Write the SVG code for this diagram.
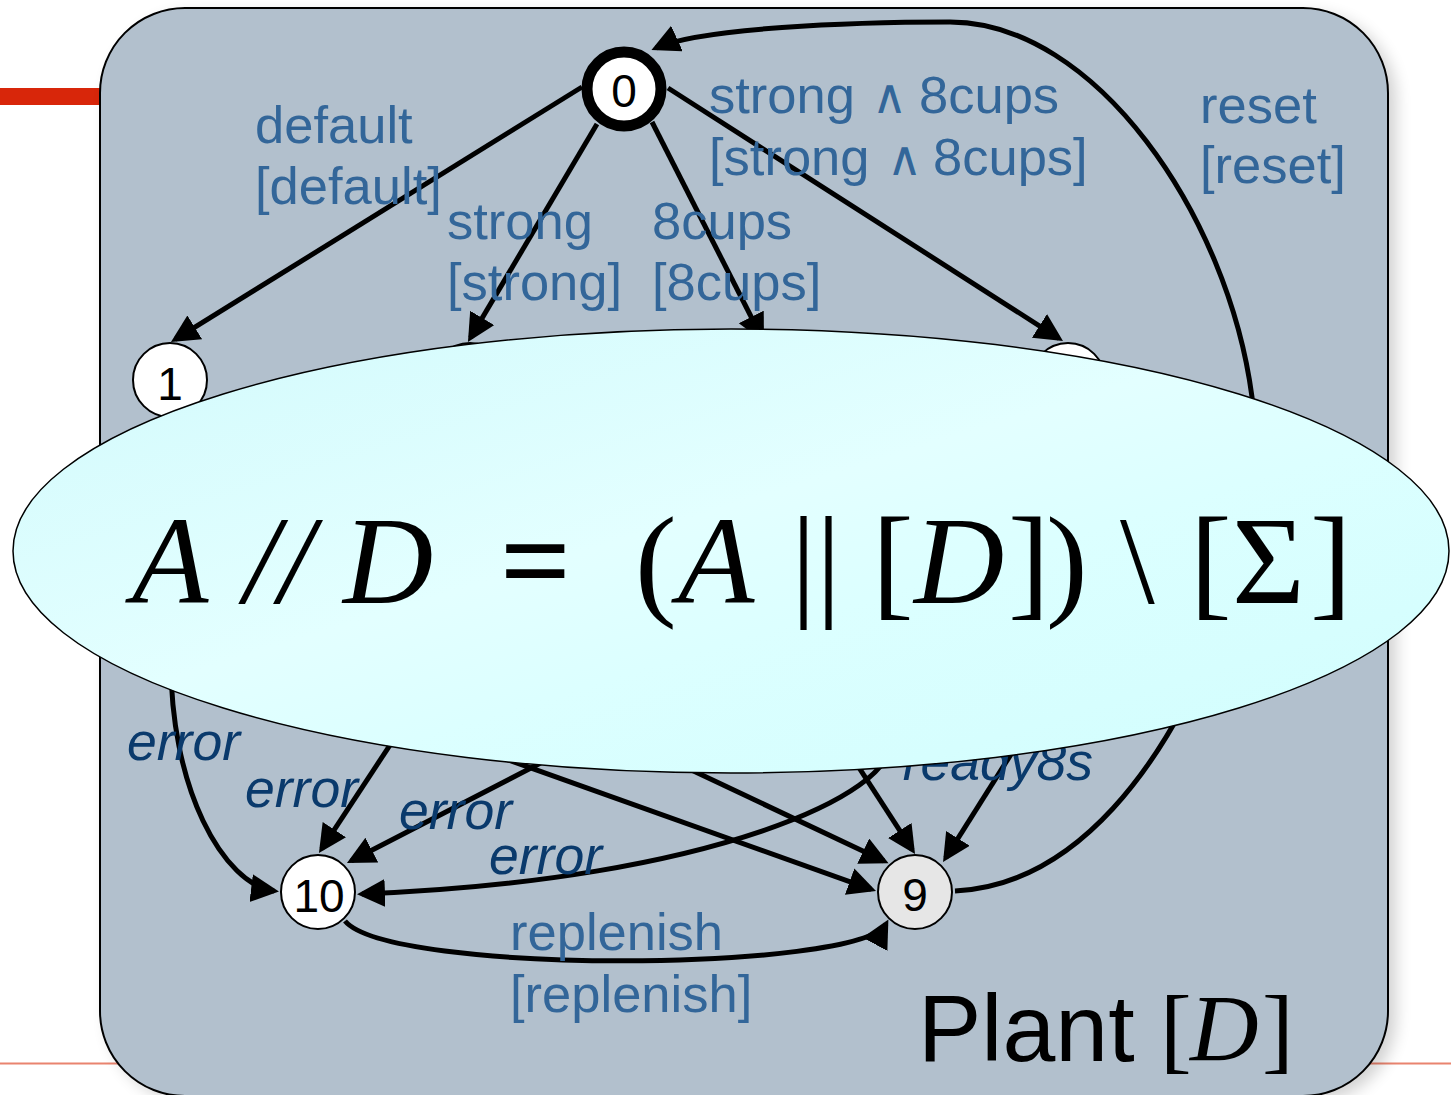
<svg xmlns="http://www.w3.org/2000/svg" width="1451" height="1095" viewBox="0 0 1451 1095">
<defs>
<style>
.lbl{font-family:"Liberation Sans",Arial,sans-serif;font-size:52.5px;fill:#336699}
.err{font-family:"Liberation Sans",Arial,sans-serif;font-size:53.5px;font-style:italic;fill:#0a3a6c}
.num{font-family:"Liberation Sans",Arial,sans-serif;font-size:46px;fill:#000;text-anchor:middle}
.node{fill:#fff;stroke:#000;stroke-width:2}
.edge{fill:none;stroke:#000;stroke-width:5}
.fx{font-family:"Liberation Serif","Times New Roman",serif;font-size:125px;fill:#000}
.it{font-style:italic}
.wedge{font-family:"DejaVu Sans",sans-serif;font-size:48px}
</style>
<marker id="ah" markerUnits="userSpaceOnUse" markerWidth="30" markerHeight="30" refX="23" refY="14" orient="auto">
<path d="M0,0 L28,14 L0,28 Z" fill="#000"/>
</marker>
<linearGradient id="eg" x1="0" y1="0" x2="1" y2="1">
<stop offset="0" stop-color="#d2fafc"/>
<stop offset="0.45" stop-color="#e3ffff"/>
<stop offset="0.6" stop-color="#dcffff"/>
<stop offset="1" stop-color="#d0fdfd"/>
</linearGradient>
<filter id="sh" x="-10%" y="-10%" width="120%" height="120%">
<feGaussianBlur stdDeviation="8"/>
</filter>
</defs>
<rect width="1451" height="1095" fill="#fff"/>
<line x1="0" y1="1063.5" x2="1451" y2="1063.5" stroke="#e9846f" stroke-width="2"/>
<rect x="0" y="88" width="102" height="17" fill="#d8260a"/>
<g id="panel">
<rect x="108" y="14" width="1288" height="1088" rx="85" fill="#000" opacity="0.18" filter="url(#sh)"/>
<rect x="100" y="8" width="1288" height="1088" rx="85" fill="#b2c0cd" stroke="#000" stroke-width="2"/>
</g>
<g id="connectors">
<path class="edge" marker-end="url(#ah)" d="M582 87 L175.2 339.4"/>
<path class="edge" marker-end="url(#ah)" d="M597 124 L470.5 337.7"/>
<path class="edge" marker-end="url(#ah)" d="M652 122 L761.7 337.5"/>
<path class="edge" marker-end="url(#ah)" d="M668 88 L1058.8 338.3"/>
<path class="edge" marker-end="url(#ah)" d="M955 891 C1080 885 1165 760 1215 640 C1262 540 1258 460 1252 397 C1228 215 1095 22 950 22 C850 22 700 28 656 48"/>
<path class="edge" marker-end="url(#ah)" d="M170 419 L171 650 C168 790 225 885 274 891"/>
<path class="edge" marker-end="url(#ah)" d="M421 698 L321.7 848.8"/>
<path class="edge" marker-end="url(#ah)" d="M655.5 703.7 L351.4 860.7"/>
<path class="edge" marker-end="url(#ah)" d="M389.7 717.6 L871.3 889.3"/>
<path class="edge" marker-end="url(#ah)" d="M630 741 L884 861"/>
<path class="edge" marker-end="url(#ah)" d="M834.6 730 L912.3 849.8"/>
<path class="edge" marker-end="url(#ah)" d="M1032 721 L945.7 857.8"/>
<path class="edge" marker-end="url(#ah)" d="M888 745 C895 790 720 880 362 894"/>
<path class="edge" marker-end="url(#ah)" d="M345 921 C390 975 860 972 886 924"/>
</g>
<g id="n0"><circle cx="624" cy="89" r="37" fill="#fff" stroke="#000" stroke-width="11"/><text class="num" x="624" y="107">0</text></g>
<g id="n1"><circle class="node" cx="170" cy="380" r="37"/><text class="num" x="170" y="400">1</text></g>
<g id="n2"><circle class="node" cx="470" cy="380" r="37"/></g>
<g id="n4"><circle class="node" cx="1068" cy="380" r="37"/></g>
<g id="n10"><circle class="node" cx="318" cy="892" r="37"/><text class="num" x="319" y="912">10</text></g>
<g id="n9"><circle class="node" cx="915" cy="892" r="37" style="fill:#e6e6e6"/><text class="num" x="915" y="911">9</text></g>
<g id="labels">
<text class="lbl" x="255" y="143">default</text>
<text class="lbl" x="255" y="204">[default]</text>
<text class="lbl" x="447" y="239">strong</text>
<text class="lbl" x="447" y="300">[strong]</text>
<text class="lbl" x="652" y="239">8cups</text>
<text class="lbl" x="652" y="300">[8cups]</text>
<text class="lbl" y="113"><tspan x="709">strong</tspan><tspan class="wedge" x="872">∧</tspan><tspan x="919">8cups</tspan></text>
<text class="lbl" y="175"><tspan x="709">[strong</tspan><tspan class="wedge" x="887">∧</tspan><tspan x="933">8cups]</tspan></text>
<text class="lbl" x="1200" y="123">reset</text>
<text class="lbl" x="1200" y="183">[reset]</text>
<text class="lbl" x="510" y="950">replenish</text>
<text class="lbl" x="510" y="1012">[replenish]</text>
<text class="err" x="127" y="760">error</text>
<text class="err" x="245" y="807">error</text>
<text class="err" x="399" y="829">error</text>
<text class="err" x="489" y="874">error</text>
<text class="err" x="1093" y="780" text-anchor="end">ready8s</text>
</g>
<g id="formula">
<ellipse cx="731" cy="551" rx="718" ry="222" fill="url(#eg)" stroke="#000" stroke-width="1.5"/>
<text class="fx" y="603"><tspan class="it" x="132">A</tspan><tspan class="it" x="244">//</tspan><tspan class="it" x="343">D</tspan><tspan x="500" font-weight="bold">=</tspan><tspan x="635">(</tspan><tspan class="it" x="678">A</tspan><tspan x="791">||</tspan><tspan x="872">[</tspan><tspan class="it" x="914">D</tspan><tspan x="1008">]</tspan><tspan x="1046">)</tspan><tspan x="1120">\</tspan><tspan x="1190">[</tspan><tspan x="1232">Σ</tspan><tspan x="1310">]</tspan></text>
</g>
<g id="title">
<text x="918" y="1061" style="font-family:'Liberation Sans',Arial,sans-serif;font-size:95px;fill:#000">Plant</text>
<text y="1061" style="font-family:'Liberation Serif','Times New Roman',serif;font-size:95px;fill:#000"><tspan x="1160">[</tspan><tspan x="1190" font-style="italic">D</tspan><tspan x="1262">]</tspan></text>
</g>
</svg>
